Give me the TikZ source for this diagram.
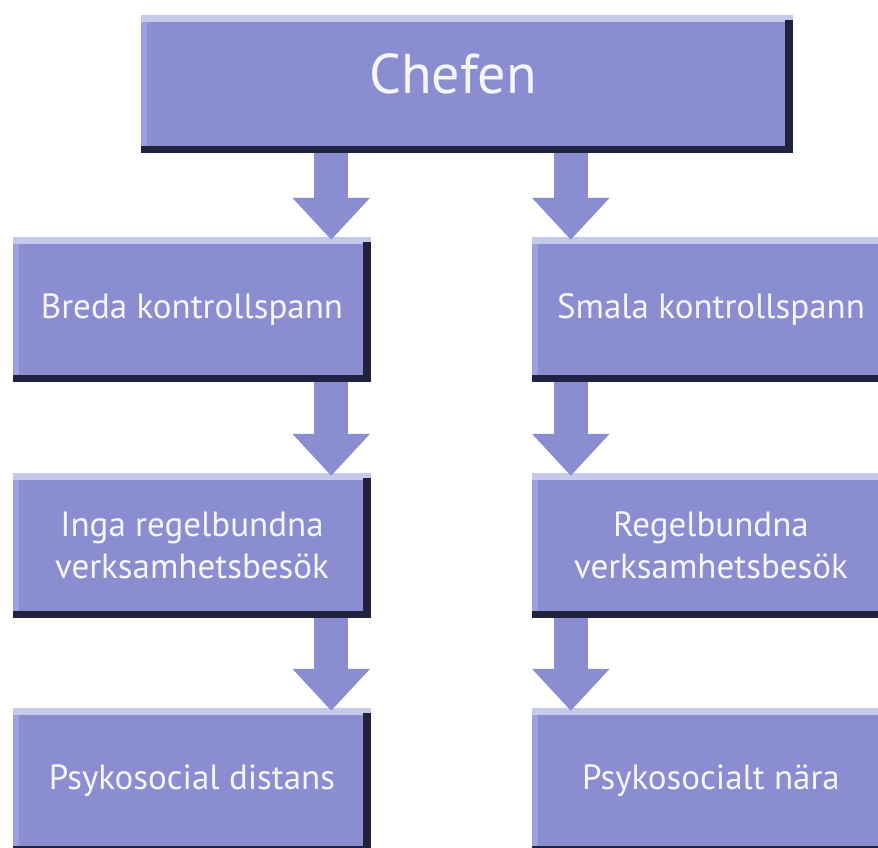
\documentclass[tikz,border=0pt]{standalone}
\usepackage{fontspec}
\setmainfont{PT Sans}
\usetikzlibrary{arrows.meta}

\definecolor{boxfill}{HTML}{8A8ED0}
\definecolor{boxdark}{HTML}{20223F}
\definecolor{boxlight}{HTML}{C6C8EC}
\definecolor{boxedge}{HTML}{9DA0DA}
\definecolor{boxtext}{HTML}{F5F5FB}

\tikzset{
  orgbox/.style={rectangle, fill=boxfill, text=boxtext, inner sep=0pt, align=center,
    minimum width=358pt, minimum height=145pt, font=\fontsize{35}{42}\selectfont,
    path picture={
      \fill[boxlight] (path picture bounding box.north west) rectangle ([yshift=-7pt]path picture bounding box.north east);
      \fill[boxedge] ([yshift=-7pt]path picture bounding box.north west) rectangle ([xshift=6pt]path picture bounding box.south west);
      \fill[boxdark] ([xshift=-8pt,yshift=-5pt]path picture bounding box.north east) rectangle (path picture bounding box.south east);
      \fill[boxdark] (path picture bounding box.south west) rectangle ([yshift=7pt]path picture bounding box.south east);
    }},
  flowarrow/.style={draw=boxfill, line width=34pt, -{Triangle[width=75pt,length=42pt]}}
}

\begin{document}
\begin{tikzpicture}[x=1pt, y=-1pt]
    \clip (0,0) rectangle (878,847);
    \fill[white] (0,0) rectangle (878,847);
    % top box
    \node[orgbox, minimum width=652pt, minimum height=138pt,
      label={[font=\fontsize{56}{66}\selectfont, text=boxtext, xshift=-14pt, yshift=10pt]center:Chefen}] (chefen) at (467,84) {};
    % left column
    \node[orgbox] (breda) at (192,309.5) {Breda kontrollspann};
    \node[orgbox] (inga) at (192,545.5) {Inga regelbundna\\verksamhetsbesök};
    \node[orgbox] (distans) at (192,780.5) {Psykosocial distans};
    % right column
    \node[orgbox] (smala) at (711,309.5) {Smala kontrollspann};
    \node[orgbox] (regel) at (711,545.5) {Regelbundna\\verksamhetsbesök};
    \node[orgbox] (nara) at (711,780.5) {Psykosocialt nära};
    % arrows
    \draw[flowarrow] ([xshift=-40pt]breda.north east |- chefen.south) -- ([xshift=-40pt,yshift=-3pt]breda.north east);
    \draw[flowarrow] ([xshift=39pt]smala.north west |- chefen.south) -- ([xshift=39pt,yshift=-3pt]smala.north west);
    \foreach \a/\b in {breda/inga, inga/distans}
        \draw[flowarrow] ([xshift=-40pt]\a.south east) -- ([xshift=-40pt,yshift=-3pt]\b.north east);
    \foreach \a/\b in {smala/regel, regel/nara}
        \draw[flowarrow] ([xshift=39pt]\a.south west) -- ([xshift=39pt,yshift=-3pt]\b.north west);
\end{tikzpicture}
\end{document}
